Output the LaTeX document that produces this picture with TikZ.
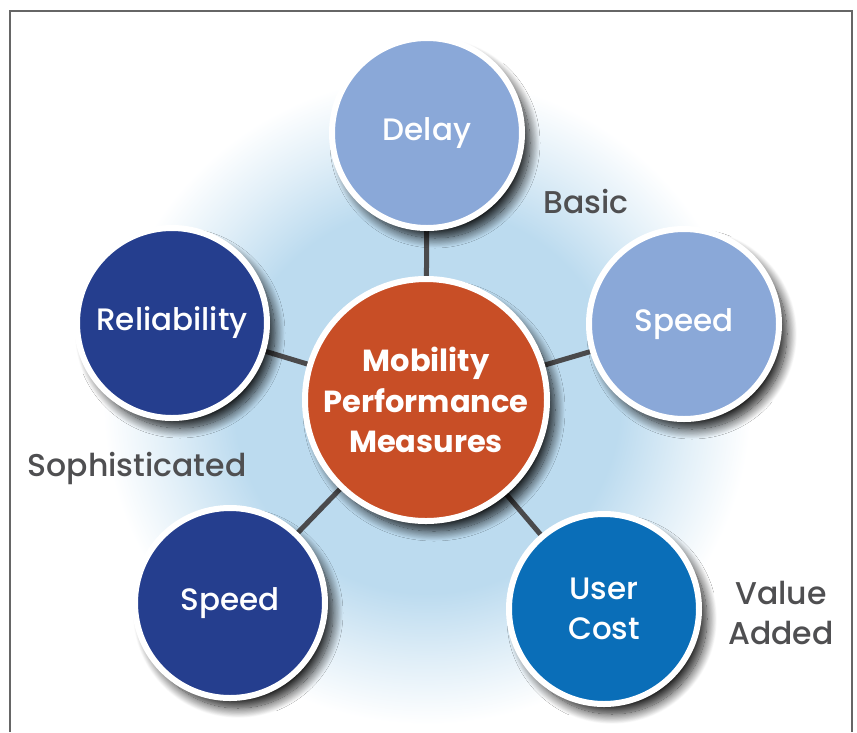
\documentclass[tikz,border=0pt]{standalone}
\usepackage{fontspec}
\setmainfont{Poppins}
\newfontfamily\medfont{Poppins Medium}
\usetikzlibrary{shadows.blur}

\definecolor{lightcirc}{HTML}{8AA8D8}
\definecolor{navycirc}{HTML}{253E8E}
\definecolor{costblue}{HTML}{0A6EB8}
\definecolor{hubred}{HTML}{C84E26}
\definecolor{spoke}{HTML}{4A4A4C}
\definecolor{tiertext}{HTML}{4F4F51}
\definecolor{glowblue}{HTML}{BCDBEF}

% outer colour is reached at 25bp, the rim of the shaded circle
\pgfdeclareradialshading{glow}{\pgfpoint{0bp}{0bp}}{color(0bp)=(glowblue); color(14bp)=(glowblue); color(19bp)=(glowblue!45); color(23.5bp)=(white); color(50bp)=(white)}

\tikzset{
  measure/.style={circle, draw=white, line width=6pt, inner sep=0pt, minimum size=190pt,
    text=white, align=center, font=\medfont\fontsize{31}{40}\selectfont,
    blur shadow={shadow xshift=8pt, shadow yshift=-10pt, shadow blur radius=10pt, shadow blur steps=18, shadow opacity=90}},
  tier/.style={text=tiertext, align=center, font=\medfont\fontsize{31.5}{40}\selectfont},
  link/.style={draw=spoke, line width=5pt}
}

\begin{document}
\begin{tikzpicture}[x=1pt, y=-1pt]
   \useasboundingbox (0,0) rectangle (857,732);
   % soft glow behind the wheel
   \begin{scope}
      \clip (10,11) rectangle (851,732);
      \shade[shading=glow] (427,400) circle (345);
   \end{scope}
   % frame, open at the bottom
   \draw[draw=black!60, line width=2pt] (9.5,732) -- (9.5,10.5) -- (852,10.5) -- (852,732);

   % centres of the wheel
   \coordinate (c-hub) at (426,400);
   \coordinate (c-delay) at (427,133);
   \coordinate (c-speedb) at (684,324);
   \coordinate (c-reliab) at (172,323);
   \coordinate (c-speeds) at (230,603);
   \coordinate (c-cost) at (604,609);

   % spokes go under the circles
   \foreach \n in {delay, speedb, reliab, speeds, cost}
      \draw[link] (c-hub) -- (c-\n);

   \node[measure, fill=hubred, minimum size=242pt, font=\bfseries\fontsize{30.5}{40.5}\selectfont] (hub) at (c-hub) {Mobility\\Performance\\Measures};
   \node[measure, fill=lightcirc] (delay) at (c-delay) {Delay};
   \node[measure, fill=lightcirc] (speedb) at (c-speedb) {Speed};
   \node[measure, fill=navycirc] (reliab) at (c-reliab) {Reliability};
   \node[measure, fill=navycirc] (speeds) at (c-speeds) {Speed};
   \node[measure, fill=costblue] (cost) at (c-cost) {User\\Cost};

   \node[tier] (basic) at (586,202) {Basic};
   \node[tier] (soph) at (137,468) {Sophisticated};
   \node[tier] (added) at (781,613) {Value\\Added};
\end{tikzpicture}
\end{document}
